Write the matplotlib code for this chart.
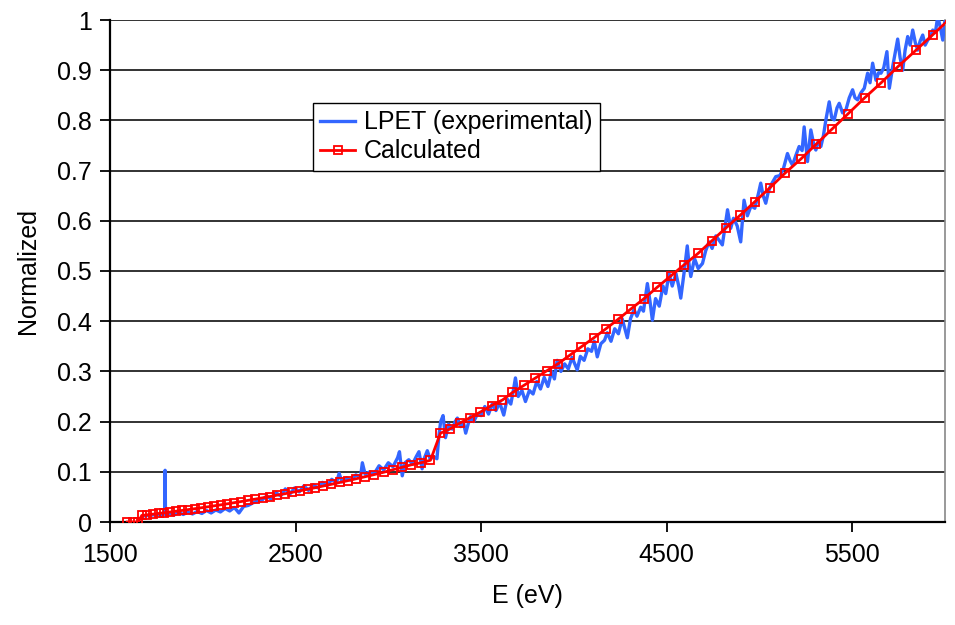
import matplotlib
matplotlib.use("Agg")
import matplotlib.pyplot as plt

plt.rcParams['font.family'] = ['Liberation Sans', 'DejaVu Sans']

# LPET (experimental)
exp_e = [1680, 1705, 1730, 1755, 1780, 1795, 1797, 1799, 1820, 1845, 1870, 1895, 1920, 1945,
         1970, 1995, 2020, 2045, 2070, 2095, 2120, 2145, 2170, 2195, 2220, 2245, 2270, 2295,
         2320, 2345, 2370, 2395, 2420, 2445, 2470, 2495, 2520, 2545, 2570, 2595, 2620, 2645,
         2670, 2695, 2720, 2735, 2750, 2775, 2800, 2825, 2850, 2860, 2875, 2900, 2925, 2950,
         2975, 3000, 3025, 3050, 3060, 3075, 3090, 3110, 3130, 3150, 3165, 3182, 3195, 3210,
         3225, 3245, 3262, 3272, 3282, 3295, 3308, 3325, 3345, 3360, 3372, 3390, 3405, 3417,
         3430, 3443, 3460, 3480, 3500, 3520, 3540, 3560, 3580, 3600, 3622, 3640, 3660, 3672,
         3685, 3700, 3720, 3739, 3760, 3780, 3800, 3820, 3840, 3860, 3880, 3895, 3910, 3930,
         3950, 3970, 3990, 4018, 4035, 4055, 4075, 4095, 4110, 4126, 4145, 4165, 4180, 4200,
         4220, 4240, 4260, 4275, 4288, 4305, 4324, 4340, 4360, 4375, 4396, 4410, 4423, 4440,
         4460, 4480, 4495, 4513, 4530, 4550, 4565, 4576, 4595, 4611, 4620, 4630, 4650, 4670,
         4693, 4710, 4728, 4745, 4765, 4785, 4800, 4815, 4828, 4845, 4860, 4880, 4899, 4917,
         4935, 4955, 4975, 4995, 5007, 5020, 5034, 5046, 5060, 5088, 5110, 5130, 5151, 5165,
         5178, 5196, 5214, 5230, 5241, 5259, 5277, 5295, 5304, 5318, 5331, 5345, 5358, 5376,
         5390, 5403, 5418, 5430, 5448, 5466, 5484, 5502, 5515, 5529, 5547, 5565, 5583, 5596,
         5610, 5628, 5642, 5655, 5670, 5687, 5700, 5718, 5732, 5745, 5758, 5772, 5785, 5799,
         5812, 5826, 5840, 5853, 5866, 5880, 5893, 5907, 5920, 5934, 5948, 5961, 5975, 5988,
         6000]
exp_y = [0.012, 0.013, 0.014, 0.015, 0.015, 0.016, 0.103, 0.016, 0.017, 0.014, 0.019, 0.015, 0.020, 0.016,
         0.021, 0.017, 0.023, 0.018, 0.024, 0.020, 0.027, 0.022, 0.029, 0.018, 0.031, 0.033, 0.038, 0.042,
         0.044, 0.052, 0.045, 0.058, 0.052, 0.066, 0.056, 0.068, 0.060, 0.072, 0.063, 0.074, 0.068, 0.079,
         0.072, 0.085, 0.078, 0.097, 0.080, 0.088, 0.083, 0.094, 0.089, 0.118, 0.095, 0.100, 0.097, 0.112,
         0.104, 0.118, 0.110, 0.128, 0.140, 0.092, 0.118, 0.124, 0.115, 0.130, 0.140, 0.106, 0.128, 0.142,
         0.126, 0.130, 0.126, 0.170, 0.200, 0.212, 0.168, 0.195, 0.185, 0.200, 0.207, 0.190, 0.198, 0.177,
         0.195, 0.210, 0.200, 0.215, 0.212, 0.230, 0.215, 0.235, 0.222, 0.238, 0.213, 0.245, 0.235, 0.258,
         0.287, 0.250, 0.262, 0.240, 0.262, 0.255, 0.280, 0.265, 0.288, 0.270, 0.300, 0.285, 0.322, 0.300,
         0.315, 0.305, 0.328, 0.303, 0.330, 0.322, 0.345, 0.340, 0.360, 0.329, 0.355, 0.362, 0.377, 0.360,
         0.385, 0.375, 0.405, 0.385, 0.367, 0.405, 0.423, 0.410, 0.428, 0.420, 0.475, 0.440, 0.402, 0.445,
         0.430, 0.470, 0.455, 0.495, 0.470, 0.495, 0.470, 0.446, 0.500, 0.550, 0.515, 0.489, 0.525, 0.505,
         0.515, 0.540, 0.558, 0.545, 0.570, 0.560, 0.552, 0.590, 0.622, 0.585, 0.605, 0.590, 0.558, 0.641,
         0.610, 0.630, 0.625, 0.655, 0.675, 0.650, 0.635, 0.655, 0.670, 0.688, 0.690, 0.705, 0.734, 0.720,
         0.711, 0.730, 0.748, 0.740, 0.787, 0.718, 0.781, 0.748, 0.741, 0.760, 0.748, 0.770, 0.801, 0.837,
         0.805, 0.801, 0.825, 0.834, 0.815, 0.821, 0.845, 0.861, 0.845, 0.841, 0.855, 0.864, 0.894, 0.875,
         0.914, 0.880, 0.895, 0.894, 0.905, 0.937, 0.864, 0.907, 0.935, 0.962, 0.925, 0.900, 0.940, 0.967,
         0.950, 0.980, 0.955, 0.940, 0.958, 0.970, 0.950, 0.960, 0.965, 0.980, 0.975, 1.007, 0.985, 0.960,
         1.000]

# Calculated
calc_e = [1593, 1626, 1653, 1671, 1701, 1731, 1762, 1793, 1825, 1857, 1890, 1923, 1957, 1991,
          2026, 2061, 2097, 2133, 2170, 2207, 2245, 2283, 2322, 2361, 2401, 2441, 2482, 2523,
          2565, 2607, 2650, 2693, 2737, 2781, 2826, 2875, 2925, 2975, 3023, 3074, 3124, 3176,
          3227, 3281, 3331, 3385, 3442, 3496, 3556, 3615, 3669, 3730, 3789, 3853, 3914, 3977,
          4040, 4108, 4173, 4239, 4306, 4378, 4450, 4522, 4593, 4669, 4743, 4820, 4896, 4975,
          5057, 5138, 5223, 5304, 5392, 5477, 5567, 5656, 5746, 5844, 5935, 6025]
calc_y = [0.0, 0.0, 0.0, 0.013, 0.0143, 0.0156, 0.0170, 0.0184, 0.0199, 0.0215, 0.0231, 0.0248, 0.0265, 0.0283,
          0.0302, 0.0322, 0.0342, 0.0363, 0.0385, 0.0408, 0.0432, 0.0456, 0.0481, 0.0507, 0.0535, 0.0562, 0.0592, 0.0621,
          0.0653, 0.0684, 0.0718, 0.0751, 0.0787, 0.0823, 0.0861, 0.0902, 0.0946, 0.0991, 0.104, 0.109, 0.114, 0.118,
          0.123, 0.177, 0.185, 0.197, 0.208, 0.219, 0.232, 0.243, 0.258, 0.272, 0.286, 0.301, 0.315, 0.332,
          0.349, 0.367, 0.385, 0.404, 0.424, 0.445, 0.468, 0.490, 0.512, 0.535, 0.560, 0.586, 0.611, 0.638,
          0.666, 0.695, 0.723, 0.752, 0.783, 0.813, 0.845, 0.875, 0.907, 0.940, 0.971, 1.002]

x_ticks = [1500, 2500, 3500, 4500, 5500]
y_ticks = [0, 0.1, 0.2, 0.3, 0.4, 0.5, 0.6, 0.7, 0.8, 0.9, 1]
y_tick_labels = ['0', '0.1', '0.2', '0.3', '0.4', '0.5', '0.6', '0.7', '0.8', '0.9', '1']

fig = plt.figure(figsize=(9.55, 6.25), dpi=100)
ax = fig.add_axes([110 / 955, 103 / 625, 835 / 955, 502 / 625])

ax.plot(exp_e, exp_y, color='#3366ff', lw=2.4, label='LPET (experimental)', zorder=3)
ax.plot(calc_e, calc_y, color='#ff0000', lw=2.0, marker='s', ms=5.5, mfc='none', mec='#ff0000',
        mew=1.3, label='Calculated', zorder=4)

ax.set_xlim(1500, 6000)
ax.set_ylim(0, 1)
ax.set_xticks(x_ticks)
ax.set_yticks(y_ticks)
ax.set_yticklabels(y_tick_labels)
ax.tick_params(axis='both', labelsize=18, length=7, width=1.3, direction='out', colors='black')
ax.tick_params(axis='x', pad=8)
ax.tick_params(axis='y', pad=6)
ax.yaxis.grid(True, color='#222222', lw=1.3)
ax.set_axisbelow(True)

for s in ['left', 'bottom']:
    ax.spines[s].set_color('black')
    ax.spines[s].set_linewidth(1.6)
ax.spines['top'].set_visible(False)
ax.spines['right'].set_color('#888888')
ax.spines['right'].set_linewidth(1.2)

ax.set_xlabel('E (eV)', fontsize=18, labelpad=12)
ax.set_ylabel('Normalized', fontsize=18, labelpad=12)

leg = ax.legend(loc='upper left', bbox_to_anchor=(0.243, 0.835), fontsize=18, frameon=True,
                fancybox=False, framealpha=1, edgecolor='black', borderpad=0.3,
                handlelength=1.4, handletextpad=0.35, labelspacing=0.2, borderaxespad=0)
leg.get_frame().set_linewidth(1.0)

fig.savefig('out.png', dpi=100)
